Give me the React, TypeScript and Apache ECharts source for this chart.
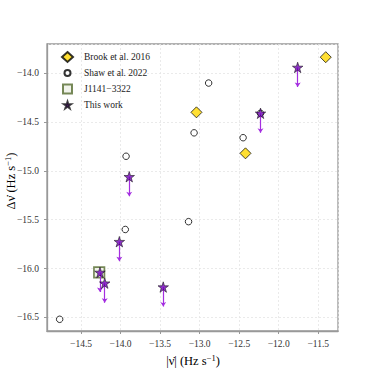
import React, { useEffect, useRef } from "react";
import * as echarts from "echarts";

const brookX = [-11.405, -13.04, -12.42];
const brookY = [-13.835, -14.4, -14.82];

const shawX = [-12.886, -13.07, -12.45, -12.23, -13.93, -13.94, -14.77, -13.14];
const shawY = [-14.1, -14.61, -14.66, -14.41, -14.85, -15.6, -16.52, -15.52];

const j1141X = [-14.27];
const j1141Y = [-16.04];

const workX = [-11.76, -12.23, -13.89, -14.015, -14.26, -14.2, -13.46];
const workY = [-13.94, -14.41, -15.06, -15.725, -16.04, -16.15, -16.19];
const limitDrop = 0.2;

const legendNames = ["Brook et al. 2016", "Shaw et al. 2022", "J1141\u22123322", "This work"];
const xTitle = "{a||\u03BD\u0307| (Hz s}{s|\u22121}{a|)}";
const yTitle = "{a|\u0394\u03BD\u0307 (Hz s}{s|\u22121}{a|)}";

const STAR =
  "path://M50,0 L61.2,34.5 L97.5,34.5 L68.2,55.9 L79.4,90.5 L50,69.1 L20.6,90.5 L31.8,55.9 L2.5,34.5 L38.8,34.5 Z";
const STAR_LEG =
  "path://M0,0 M110,100 M55,16.1 L63.4,41.9 L90.6,41.9 L68.65,58 L77.05,83.9 L55,67.9 L32.95,83.9 L41.35,58 L19.4,41.9 L46.6,41.9 Z";
const CIRCLE_LEG = "path://M0,0 M110,100 M55,20 A30,30 0 1 1 55,80 A30,30 0 1 1 55,20 Z";
const SQUARE_LEG = "path://M0,0 M110,100 M10,5 L100,5 L100,95 L10,95 Z";

const FONT = "Liberation Serif";
const fmt = (v: number) => (v < 0 ? "\u2212" : "") + Math.abs(v).toFixed(1);

export default function App() {
  const ref = useRef<HTMLDivElement>(null);
  useEffect(() => {
    if (!ref.current) return;
    const chart = echarts.init(ref.current, undefined, { renderer: "svg" });
    const zip = (xs: number[], ys: number[]) => xs.map((x, i) => [x, ys[i]]);
    const rich = {
      a: { fontFamily: FONT, fontSize: 12.5, color: "#222", lineHeight: 16 },
      s: { fontFamily: FONT, fontSize: 8.5, color: "#222", verticalAlign: "top", lineHeight: 16 },
    };
    const axisCommon = {
      axisLine: { show: true, onZero: false, lineStyle: { color: "#999", width: 1.3 } },
      axisTick: { show: true, length: 3, lineStyle: { color: "#999" } },
      splitLine: { show: true, lineStyle: { color: "#e4e4e4", type: [2, 2], width: 0.8 } },
      axisLabel: {
        color: "#333",
        fontFamily: FONT,
        fontSize: 9.5,
        formatter: fmt,
        showMinLabel: false,
        showMaxLabel: false,
      },
    };
    chart.setOption({
      animation: false,
      backgroundColor: "#fff",
      grid: {
        left: 47,
        right: 39,
        top: 44,
        bottom: 42,
        show: true,
        borderColor: "#999",
        borderWidth: 1.3,
        outerBoundsMode: "none",
        containLabel: false,
      },
      graphic: [
        {
          type: "text",
          x: 193,
          y: 361,
          style: { text: xTitle, rich, align: "center", verticalAlign: "middle" },
        },
        {
          type: "text",
          x: 11,
          y: 181,
          rotation: Math.PI / 2,
          style: { text: yTitle, rich, align: "center", verticalAlign: "middle" },
        },
      ],
      legend: {
        orient: "vertical",
        left: 61,
        top: 51,
        padding: 0,
        itemWidth: 11,
        itemHeight: 10,
        itemGap: 4,
        data: [
          { name: legendNames[0], icon: "diamond" },
          { name: legendNames[1], icon: CIRCLE_LEG },
          { name: legendNames[2], icon: SQUARE_LEG },
          { name: legendNames[3], icon: STAR_LEG },
        ],
        textStyle: {
          fontFamily: FONT,
          fontSize: 9.5,
          lineHeight: 10.5,
          color: "#222",
          padding: [0, 0, 0, 6],
        },
      },
      xAxis: {
        type: "value",
        min: -14.93,
        max: -11.25,
        splitNumber: 7,
        ...axisCommon,
      },
      yAxis: {
        type: "value",
        min: -16.64,
        max: -13.7,
        splitNumber: 6,
        ...axisCommon,
      },
      series: [
        {
          name: legendNames[1],
          type: "scatter",
          z: 2,
          symbol: "circle",
          symbolSize: 6.5,
          data: zip(shawX, shawY),
          itemStyle: { color: "#fff", borderColor: "#000", borderWidth: 1 },
        },
        {
          name: legendNames[0],
          type: "scatter",
          z: 3,
          symbol: "diamond",
          symbolSize: 11,
          data: zip(brookX, brookY),
          itemStyle: { color: "#FFD700", borderColor: "#000", borderWidth: 0.9 },
        },
        {
          name: legendNames[2],
          type: "scatter",
          z: 3,
          symbol: "rect",
          symbolSize: 10.5,
          data: zip(j1141X, j1141Y),
          itemStyle: { color: "#eef0e6", borderColor: "#556B2F", borderWidth: 1.7 },
        },
        {
          type: "lines",
          coordinateSystem: "cartesian2d",
          z: 4,
          symbol: ["none", "arrow"],
          symbolSize: 4.5,
          data: workX.map((x, i) => ({ coords: [[x, workY[i]], [x, workY[i] - limitDrop]] })),
          lineStyle: { color: "#a42ee0", width: 1.2, opacity: 1 },
        },
        {
          name: legendNames[3],
          type: "scatter",
          z: 5,
          symbol: STAR,
          symbolSize: 10.5,
          data: zip(workX, workY),
          itemStyle: { color: "#7000b8", borderColor: "#111", borderWidth: 0.7 },
        },
      ],
    });
    return () => chart.dispose();
  }, []);
  return (
    <div
      ref={ref}
      style={{ position: "absolute", left: 0, top: 0, width: 377, height: 373 }}
    />
  );
}
